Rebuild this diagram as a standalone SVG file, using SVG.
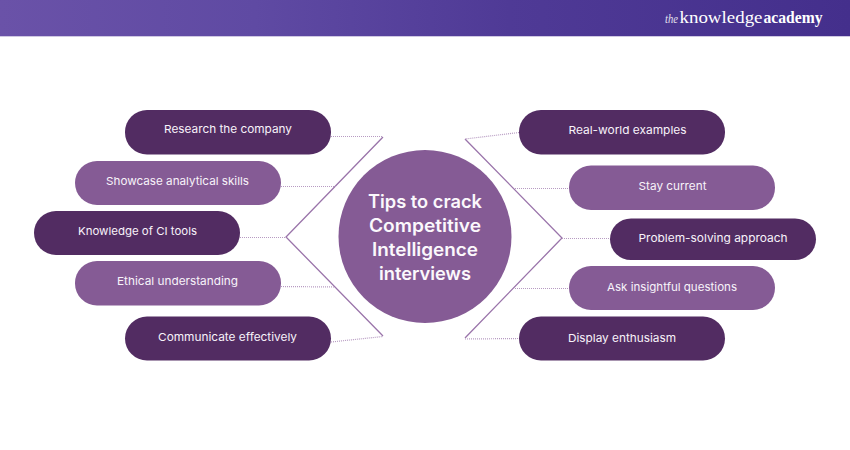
<svg xmlns="http://www.w3.org/2000/svg" width="850" height="450" viewBox="0 0 850 450">
<style>
.dark{fill:#522c62}
.mid{fill:#855b95}
.t{font-family:Inter,"Noto Sans",sans-serif;font-size:11px;font-weight:400;fill:#f8f3fa}
.h{font-family:Inter,"Noto Sans",sans-serif;font-size:18px;font-weight:600;fill:#fbf8fc;text-anchor:start}
.s{fill:none;stroke:#9a74aa;stroke-width:1.300}
.d{fill:none;stroke:#b79bc2;stroke-width:1.200;stroke-dasharray:1 1}
.logo{font-family:"Liberation Serif",serif;fill:#fff}
</style>
<defs>
<linearGradient id="hdr" x1="0" x2="1" y1="0" y2="0">
<stop offset="0" stop-color="#6a52a8"/><stop offset="0.3" stop-color="#5f4aa3"/><stop offset="0.6" stop-color="#4f3a96"/><stop offset="1" stop-color="#442f8c"/>
</linearGradient>
</defs>
<rect width="850" height="450" fill="#fff"/>
<g id="header">
<rect width="850" height="36" fill="url(#hdr)"/>
<rect y="36" width="850" height="1" fill="#cfc8e2"/>
<text class="logo" x="665" y="23" font-size="12" font-style="italic" opacity="0.85" textLength="13" lengthAdjust="spacingAndGlyphs">the</text>
<text class="logo" x="679.500" y="23" font-size="17" textLength="83" lengthAdjust="spacingAndGlyphs">knowledge</text>
<text class="logo" x="763.500" y="23" font-size="17" font-weight="700" textLength="59" lengthAdjust="spacingAndGlyphs">academy</text>
</g>
<g id="connectors">
<path class="s" d="M383 137L286 237L383 336"/>
<path class="s" d="M465 139L562 238L465 338"/>
<path class="d" d="M331 136.500H383M281 186.500H336M240 237.500H286M281 286.500L335 287M331 342L383 336.500"/>
<path class="d" d="M519 132.500L465 139M515 188.500H569M562 238.500H609M515 288.500H569M465 339L519 338.500"/>
</g>
<g id="center">
<circle cx="425" cy="236.500" r="86.500" class="mid"/>
<text class="h" x="368" y="208" textLength="114" lengthAdjust="spacingAndGlyphs">Tips to crack</text>
<text class="h" x="369" y="232" textLength="112" lengthAdjust="spacingAndGlyphs">Competitive</text>
<text class="h" x="372" y="256" textLength="106" lengthAdjust="spacingAndGlyphs">Intelligence</text>
<text class="h" x="379" y="280" textLength="92" lengthAdjust="spacingAndGlyphs">interviews</text>
</g>
<g id="n1"><rect class="dark" x="125" y="110" width="206" height="44.500" rx="22"/><text class="t" x="164" y="133" textLength="128" lengthAdjust="spacingAndGlyphs">Research the company</text></g>
<g id="n2"><rect class="mid" x="75" y="161" width="206" height="44" rx="22"/><text class="t" x="106" y="185" textLength="143" lengthAdjust="spacingAndGlyphs">Showcase analytical skills</text></g>
<g id="n3"><rect class="dark" x="34" y="211" width="206" height="44" rx="22"/><text class="t" x="78" y="235" textLength="119" lengthAdjust="spacingAndGlyphs">Knowledge of CI tools</text></g>
<g id="n4"><rect class="mid" x="75" y="261" width="206" height="44.500" rx="22"/><text class="t" x="117" y="285" textLength="121" lengthAdjust="spacingAndGlyphs">Ethical understanding</text></g>
<g id="n5"><rect class="dark" x="125" y="316.500" width="206" height="44" rx="22"/><text class="t" x="158" y="341" textLength="139" lengthAdjust="spacingAndGlyphs">Communicate effectively</text></g>
<g id="n6"><rect class="dark" x="519" y="110" width="206" height="44.500" rx="22"/><text class="t" x="568.500" y="134" textLength="118" lengthAdjust="spacingAndGlyphs">Real-world examples</text></g>
<g id="n7"><rect class="mid" x="569" y="165.500" width="206" height="44.500" rx="22"/><text class="t" x="638.500" y="190" textLength="68" lengthAdjust="spacingAndGlyphs">Stay current</text></g>
<g id="n8"><rect class="dark" x="610" y="218.500" width="206" height="41.500" rx="21"/><text class="t" x="638.500" y="242" textLength="149" lengthAdjust="spacingAndGlyphs">Problem-solving approach</text></g>
<g id="n9"><rect class="mid" x="569" y="266" width="206" height="44" rx="22"/><text class="t" x="607" y="291" textLength="130" lengthAdjust="spacingAndGlyphs">Ask insightful questions</text></g>
<g id="n10"><rect class="dark" x="519" y="316.500" width="206" height="44" rx="22"/><text class="t" x="568" y="342" textLength="108" lengthAdjust="spacingAndGlyphs">Display enthusiasm</text></g>
</svg>
